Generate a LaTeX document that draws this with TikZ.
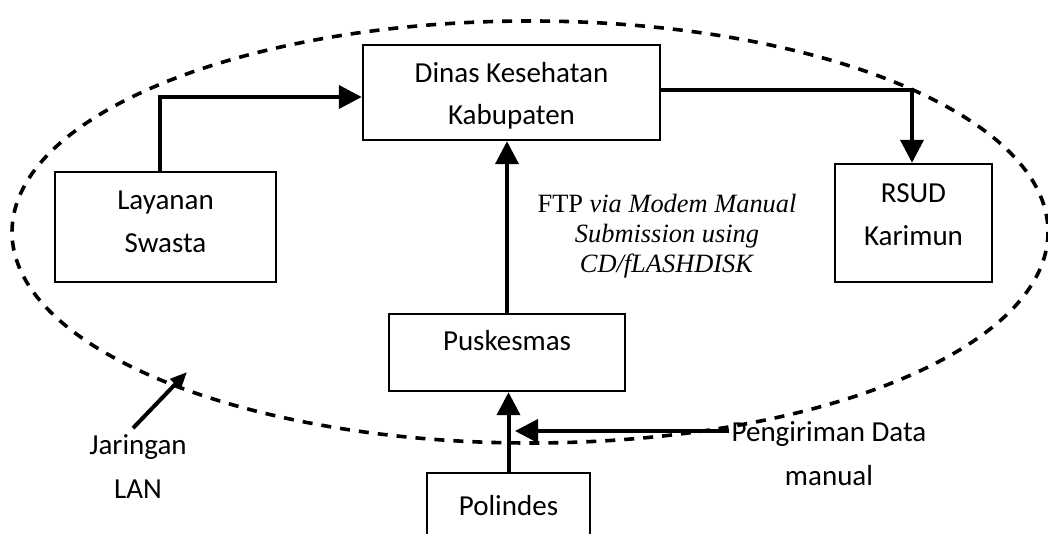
\documentclass[tikz,border=0pt]{standalone}
\usepackage{fontspec}
\setmainfont{Carlito}
\newfontfamily\ftpfont{Liberation Serif}
\usepackage{tikz}
\usetikzlibrary{arrows.meta}

\begin{document}
\begin{tikzpicture}[
    x=0.5pt, y=-0.5pt,
    box/.style={draw, line width=1.2pt, inner sep=0pt,
        align=center, font=\fontsize{14.5}{21}\selectfont},
    txt/.style={inner sep=1pt, align=center, anchor=base,
        font=\fontsize{14.5}{21.75}\selectfont},
    conn/.style={line width=2pt, -{Triangle[length=11.5pt, width=11.5pt]}},
    lan/.style={line width=1.8pt, dash pattern=on 5pt off 4.5pt}
]
    \useasboundingbox (0,0) rectangle (1048,534);
    \clip (0,0) rectangle (1048,534);

    \node[box, minimum width=148.5pt, minimum height=47.5pt, text height=34pt, text depth=1.5pt]
        (dinas) at (511.5,92.5) {Dinas Kesehatan\\Kabupaten};
    \node[box, minimum width=110.5pt, minimum height=55pt, text height=31pt, text depth=6pt]
        (lay) at (165.5,227) {Layanan\\Swasta};
    \node[box, minimum width=78.5pt, minimum height=59pt, text height=31pt, text depth=9pt]
        (rsud) at (913.5,223) {RSUD\\Karimun};
    \node[box, minimum width=118pt, minimum height=38.5pt, text height=10pt, text depth=12.5pt]
        (pusk) at (507,352.5) {Puskesmas};
    \node[box, minimum width=81.5pt, minimum height=43.5pt, text height=10pt, text depth=11.5pt]
        (poli) at (508.5,516.5) {Polindes};

    \node[inner sep=0pt, align=center, anchor=base,
        font=\ftpfont\fontsize{13.2}{15}\selectfont]
        (ftp) at (667,272) {FTP \textit{via Modem Manual}\\\textit{Submission using}\\\textit{CD/fLASHDISK}};
    \node[txt] (jar) at (138,498) {Jaringan\\LAN};
    \node[txt] (kirim) at (829,485) {Pengiriman Data\\manual};

    \draw[lan] (530,232) ellipse [x radius=518, y radius=211];

    \draw[conn] ([xshift=-2.75pt]lay.north) |- ([yshift=-2.25pt]dinas.west);
    \draw[conn] ([yshift=1.25pt]dinas.east) -| ([xshift=-0.75pt]rsud.north);
    \draw[conn] (pusk.north) -- (pusk.north |- dinas.south);
    \draw[conn] (poli.north) -- (poli.north |- pusk.south);

    \coordinate (tip) at (515,431);
    \draw[conn] (kirim.north west |- tip) -- (tip);

    \coordinate (lan in) at (187,372);
    \draw[line width=2pt, -{Triangle[length=8.5pt, width=7pt]}]
        ([xshift=-2.5pt,yshift=2pt]jar.north) -- (lan in);
\end{tikzpicture}
\end{document}
